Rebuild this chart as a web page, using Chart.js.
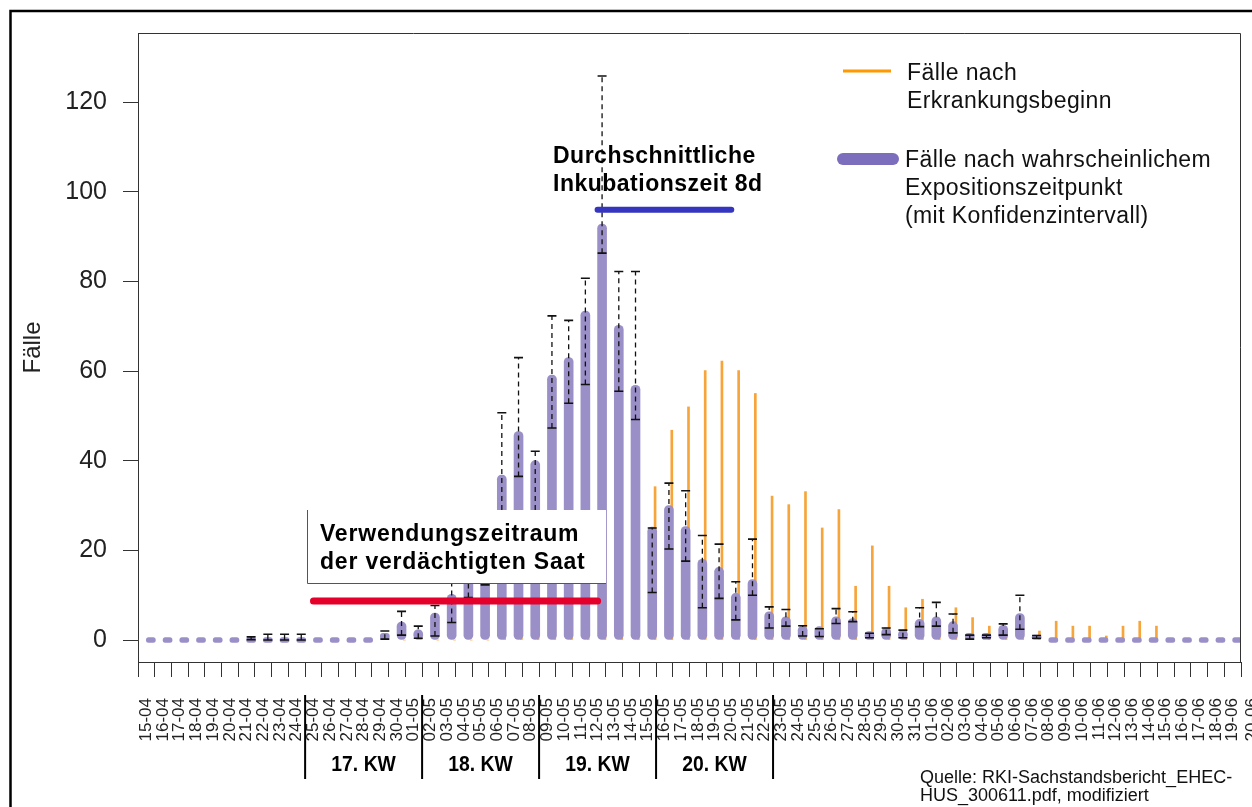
<!DOCTYPE html>
<html lang="de">
<head>
<meta charset="utf-8">
<title>EHEC Fälle</title>
<script src="https://cdn.jsdelivr.net/npm/chart.js@4.4.1/dist/chart.umd.min.js"></script>
<style>
  html, body { margin: 0; padding: 0; background: #fff; }
  #wrap { width: 1252px; height: 807px; }
</style>
</head>
<body>
<div id="wrap"><canvas id="ehecChart" width="1252" height="807"></canvas></div>
<script>
// Tage 15-04 .. 20-06
const days = [
  '15-04','16-04','17-04','18-04','19-04','20-04','21-04','22-04','23-04','24-04',
  '25-04','26-04','27-04','28-04','29-04','30-04',
  '01-05','02-05','03-05','04-05','05-05','06-05','07-05','08-05','09-05','10-05',
  '11-05','12-05','13-05','14-05','15-05','16-05','17-05','18-05','19-05','20-05',
  '21-05','22-05','23-05','24-05','25-05','26-05','27-05','28-05','29-05','30-05','31-05',
  '01-06','02-06','03-06','04-06','05-06','06-06','07-06','08-06','09-06','10-06',
  '11-06','12-06','13-06','14-06','15-06','16-06','17-06','18-06','19-06','20-06'
];

// Fälle nach Erkrankungsbeginn (orange)
const onsetCases = [
  0, 0, 0, 0, 0, 0, 0, 0, 0, 0,
  0, 0, 0, 0, 0, 1.1,
  0, 1.1, 0, 0, 0, 0, 2.1, 7.2, 7.2, 14,
  18, 21, 24, 24, 45.2, 34.2, 46.8, 52, 60.1, 62.2,
  60.1, 55, 32.1, 30.2, 33.1, 25, 29.1, 12, 21, 12, 7.2,
  9.1, 2, 7.2, 5, 3.1, 2, 3.1, 2, 4.2, 3.1,
  3.1, 0.9, 3.1, 4.2, 3.1, 0, 0, 0, 0, 0
];

// Fälle nach wahrscheinlichem Expositionszeitpunkt (lila), 15-04 .. 19-06
const exposureCases = [
  0, 0, 0, 0, 0, 0, 0, 0, 0, 0,
  0, 0, 0, 0, 1.5, 4,
  2.3, 6, 10.2, 15, 22, 36.8, 46.5, 40, 59.1, 63,
  73.4, 92.8, 70.2, 56.8, 25.2, 30, 25.3, 18, 16.2, 10.4,
  13.5, 6.3, 5.2, 3.1, 3, 5.2, 4.8, 1.9, 2.7, 2.2, 4.6,
  5.2, 4.1, 1.5, 1.5, 3.3, 5.9, 1.1, 0, 0, 0,
  0, 0, 0, 0, 0, 0, 0, 0, 0
];

// Konfidenzintervall
const ciLow = [
  null, null, null, null, null, null, 0.1, 0, 0, 0,
  null, null, null, null, 0.2, 1.1,
  0.4, 0.9, 3.9, 9.5, 12.3, 25, 36.5, 27, 47.3, 52.8,
  57, 86.3, 55.5, 49.2, 10.6, 20.3, 17.6, 7.2, 9.3, 4.5,
  10, 2.7, 3.1, 0.9, 0.8, 3.7, 4.1, 0.5, 1.2, 0.5, 3,
  3.1, 1.6, 0.2, 0.5, 1.1, 2.4, 0.4, null, null, null,
  null, null, null, null, null, null, null, null, null
];
const ciHigh = [
  null, null, null, null, null, null, 0.7, 1.3, 1.3, 1.3,
  null, null, null, null, 2, 6.4,
  3.1, 7.7, 13, 22, 27, 50.7, 63, 42.1, 72.3, 71.3,
  80.7, 125.8, 82.2, 82.2, 25, 35, 33.3, 23.3, 21.4, 13,
  22.5, 7.4, 6.8, 3.2, 2.5, 7, 6.3, 1.5, 2.7, 2.2, 7.2,
  8.4, 5.8, 1.1, 1.1, 3.6, 10, 1.0, null, null, null,
  null, null, null, null, null, null, null, null, null
];

const yTicks = [0, 20, 40, 60, 80, 100, 120];
const weekStarts = ['25-04', '02-05', '09-05', '16-05', '23-05'];
const weekLabels = ['17. KW', '18. KW', '19. KW', '20. KW'];
const seedPeriod = ['25-04', '12-05'];
const incubationPeriod = ['12-05', '20-05'];

const FONT = "'Liberation Sans', Arial, sans-serif";
const ORANGE = '#f7a43a';
const PURPLE = '#9a8fc7';

function setSpacing(ctx, v) {
  if ('letterSpacing' in ctx) ctx.letterSpacing = v;
}

const decorPlugin = {
  id: 'decor',
  beforeDraw(chart) {
    const ctx = chart.ctx;
    ctx.save();
    ctx.fillStyle = '#fff';
    ctx.fillRect(0, 0, chart.width, chart.height);
    ctx.restore();
  },
  afterDatasetsDraw(chart) {
    const ctx = chart.ctx;
    const x = chart.scales.x, y = chart.scales.y;
    const meta = chart.getDatasetMeta(1);

    // error bars
    ctx.save();
    ctx.strokeStyle = '#111';
    meta.data.forEach((bar, i) => {
      if (ciLow[i] === null || ciHigh[i] === null) return;
      const yl = y.getPixelForValue(ciLow[i]);
      const yh = y.getPixelForValue(ciHigh[i]);
      ctx.lineWidth = 1.3;
      ctx.setLineDash([5, 4]);
      ctx.beginPath();
      ctx.moveTo(bar.x, yl);
      ctx.lineTo(bar.x, yh);
      ctx.stroke();
      ctx.setLineDash([]);
      ctx.lineWidth = 1.6;
      ctx.beginPath();
      ctx.moveTo(bar.x - 4.5, yl); ctx.lineTo(bar.x + 4.5, yl);
      ctx.moveTo(bar.x - 4.5, yh); ctx.lineTo(bar.x + 4.5, yh);
      ctx.stroke();
    });
    ctx.restore();

    // box for the seed period text
    ctx.save();
    ctx.fillStyle = '#fff';
    ctx.fillRect(307, 510, 299, 73);
    ctx.strokeStyle = '#555';
    ctx.lineWidth = 1;
    ctx.beginPath();
    ctx.moveTo(307.5, 510); ctx.lineTo(307.5, 583.5); ctx.lineTo(606, 583.5);
    ctx.stroke();

    ctx.fillStyle = '#000';
    ctx.font = 'bold 23px ' + FONT;
    setSpacing(ctx, '0.8px');
    ctx.textAlign = 'left';
    ctx.textBaseline = 'alphabetic';
    ctx.fillText('Verwendungszeitraum', 320, 541);
    ctx.fillText('der verdächtigten Saat', 320, 569);

    setSpacing(ctx, '0.5px');
    ctx.fillText('Durchschnittliche', 553, 163);
    ctx.fillText('Inkubationszeit 8d', 553, 191);
    setSpacing(ctx, '0px');

    // seed period line (red) and incubation line (blue)
    ctx.lineCap = 'round';
    ctx.strokeStyle = '#e4002b';
    ctx.lineWidth = 7;
    const ry = y.getPixelForValue(8.7);
    ctx.beginPath();
    ctx.moveTo(x.getPixelForValue(seedPeriod[0]), ry);
    ctx.lineTo(x.getPixelForValue(seedPeriod[1]), ry);
    ctx.stroke();

    ctx.strokeStyle = '#3535c0';
    ctx.lineWidth = 6;
    const by = y.getPixelForValue(96);
    ctx.beginPath();
    ctx.moveTo(x.getPixelForValue(incubationPeriod[0]), by);
    ctx.lineTo(x.getPixelForValue(incubationPeriod[1]), by);
    ctx.stroke();
    ctx.restore();
  },
  afterDraw(chart) {
    const ctx = chart.ctx;
    const x = chart.scales.x;
    const area = chart.chartArea;
    ctx.save();

    // plot frame top / right
    ctx.strokeStyle = '#333';
    ctx.lineWidth = 1;
    ctx.beginPath();
    ctx.moveTo(area.left, area.top + 0.5);
    ctx.lineTo(area.right - 0.5, area.top + 0.5);
    ctx.lineTo(area.right - 0.5, area.bottom);
    ctx.stroke();

    // outer border
    ctx.strokeStyle = '#000';
    ctx.lineWidth = 2.5;
    ctx.beginPath();
    ctx.moveTo(10.5, chart.height);
    ctx.lineTo(10.5, 11);
    ctx.lineTo(chart.width, 11);
    ctx.stroke();

    // last date label (outside the plot)
    const items = x.getLabelItems();
    if (items.length) {
      const it = items[0];
      const lx = Math.min(x.getPixelForValue(days.length - 1), chart.width - 10);
      ctx.save();
      ctx.translate(lx, it.options.translation[1]);
      ctx.rotate(it.options.rotation);
      ctx.font = it.font.string;
      ctx.fillStyle = '#222';
      ctx.textAlign = it.options.textAlign;
      ctx.textBaseline = it.options.textBaseline;
      ctx.fillText(days[days.length - 1], 0, it.textOffset);
      ctx.restore();
    }

    // calendar weeks
    const seps = weekStarts.map(d => x.getPixelForValue(days.indexOf(d) - 0.5));
    ctx.strokeStyle = '#000';
    ctx.lineWidth = 2;
    ctx.beginPath();
    seps.forEach(px => { ctx.moveTo(px, 695); ctx.lineTo(px, 779); });
    ctx.stroke();
    ctx.fillStyle = '#000';
    ctx.font = 'bold 22px ' + FONT;
    ctx.textAlign = 'center';
    ctx.textBaseline = 'alphabetic';
    weekLabels.forEach((lbl, i) => {
      ctx.save();
      ctx.translate((seps[i] + seps[i + 1]) / 2, 771);
      ctx.scale(0.88, 1);
      ctx.fillText(lbl, 0, 0);
      ctx.restore();
    });

    // legend
    ctx.lineCap = 'butt';
    ctx.strokeStyle = '#ff9900';
    ctx.lineWidth = 3;
    ctx.beginPath();
    ctx.moveTo(843, 71); ctx.lineTo(891, 71);
    ctx.stroke();
    ctx.lineCap = 'round';
    ctx.strokeStyle = '#7d6dbd';
    ctx.lineWidth = 12;
    ctx.beginPath();
    ctx.moveTo(843, 159); ctx.lineTo(893, 159);
    ctx.stroke();

    ctx.fillStyle = '#111';
    ctx.font = '23px ' + FONT;
    setSpacing(ctx, '0.4px');
    ctx.textAlign = 'left';
    ctx.fillText('Fälle nach', 907, 80);
    ctx.fillText('Erkrankungsbeginn', 907, 108);
    ctx.fillText('Fälle nach wahrscheinlichem', 905, 167);
    ctx.fillText('Expositionszeitpunkt', 905, 195);
    ctx.fillText('(mit Konfidenzintervall)', 905, 223);

    // source
    ctx.font = '18px ' + FONT;
    setSpacing(ctx, '0px');
    ctx.fillText('Quelle: RKI-Sachstandsbericht_EHEC-', 920, 783);
    ctx.fillText('HUS_300611.pdf, modifiziert', 920, 801);
    ctx.restore();
  }
};

new Chart(document.getElementById('ehecChart'), {
  type: 'bar',
  data: {
    labels: days.slice(0, days.length - 1),
    datasets: [
      {
        label: 'Fälle nach Erkrankungsbeginn',
        data: onsetCases,
        xAxisID: 'x2',
        backgroundColor: ORANGE,
        barThickness: 2,
        order: 2
      },
      {
        label: 'Fälle nach wahrscheinlichem Expositionszeitpunkt',
        data: exposureCases,
        xAxisID: 'x',
        backgroundColor: PURPLE,
        barThickness: 9,
        borderRadius: 4.5,
        borderSkipped: false,
        minBarLength: 5,
        order: 1
      }
    ]
  },
  options: {
    responsive: false,
    animation: false,
    events: [],
    layout: { padding: { top: 33, right: 11, bottom: 0, left: 0 } },
    plugins: {
      legend: { display: false },
      tooltip: { enabled: false }
    },
    scales: {
      x: {
        type: 'category',
        offset: true,
        grid: { drawOnChartArea: false, tickLength: 15, color: '#333', offset: true },
        border: { color: '#333', width: 1 },
        ticks: {
          autoSkip: false,
          minRotation: 90,
          maxRotation: 90,
          padding: 21,
          color: '#222',
          font: { family: FONT, size: 17 }
        },
        afterFit(scale) {
          scale.height = 145;
          scale.paddingLeft = 0;
          scale.paddingRight = 0;
        }
      },
      x2: {
        type: 'category',
        labels: days,
        offset: false,
        display: false
      },
      y: {
        min: -4.9,
        max: 135.4,
        grid: { drawOnChartArea: false, tickLength: 15, color: '#333' },
        border: { color: '#333', width: 1 },
        ticks: {
          padding: 16,
          color: '#222',
          font: { family: FONT, size: 25 }
        },
        afterBuildTicks(scale) { scale.ticks = yTicks.map(v => ({ value: v })); },
        title: {
          display: true,
          text: 'Fälle',
          color: '#222',
          font: { family: FONT, size: 24 },
          padding: { top: 19, bottom: 0 }
        },
        afterFit(scale) { scale.width = 138; }
      }
    }
  },
  plugins: [decorPlugin]
});
</script>
</body>
</html>
